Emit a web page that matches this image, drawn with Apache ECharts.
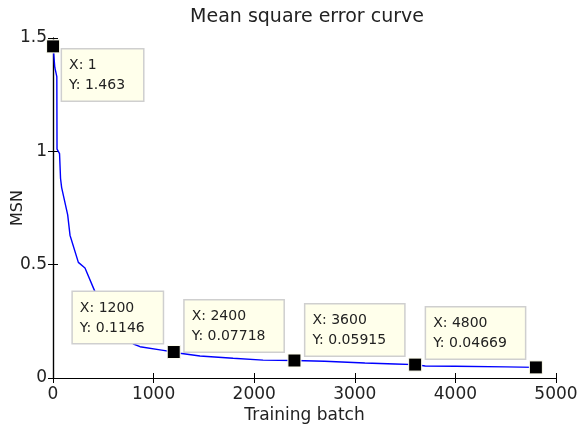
<!DOCTYPE html>
<html>
<head>
<meta charset="utf-8">
<script src="https://cdn.jsdelivr.net/npm/echarts@6/dist/echarts.min.js"></script>
<style>html,body{margin:0;padding:0;background:#fff;}#c{width:579px;height:430px;}</style>
</head>
<body>
<div id="c"></div>
<script>
// Curve samples
var curveX = [1, 18, 38, 40, 65, 75, 86, 146, 169, 252, 318, 418, 500, 600, 700, 800, 865, 1080, 1200, 1262, 1461, 1790, 2088, 2400, 2700, 3100, 3400, 3600, 3700, 4000, 4500, 4800];
var curveY = [1.463, 1.37, 1.33, 1.01, 0.99, 0.88, 0.84, 0.72, 0.63, 0.51, 0.485, 0.38, 0.30, 0.23, 0.18, 0.15, 0.138, 0.123, 0.1146, 0.109, 0.097, 0.087, 0.079, 0.07718, 0.074, 0.066, 0.062, 0.05915, 0.053, 0.052, 0.049, 0.04669];
// Data tips
var tipX = [1, 1200, 2400, 3600, 4800];
var tipY = [1.463, 0.1146, 0.07718, 0.05915, 0.04669];
// Axis ticks
var xTicks = [0, 1000, 2000, 3000, 4000, 5000];
var yTicks = [0, 0.5, 1, 1.5];

var FONT = 'DejaVu Sans';
var lineData = curveX.map(function (x, i) { return [x, curveY[i]]; });
var tipData = tipX.map(function (x, i) {
  var first = i === 0;
  return {
    value: [x, tipY[i]],
    label: first
      ? { position: [16, 10], align: 'left', verticalAlign: 'top' }
      : { position: [-4, -2], align: 'right', verticalAlign: 'bottom' }
  };
});

var axisCommon = {
  type: 'value',
  axisLine: { show: true, lineStyle: { color: '#000', width: 1.2 } },
  axisTick: { show: true, inside: true, length: 5, lineStyle: { color: '#000' } },
  splitLine: { show: false }
};
function plain(v) { return String(v); }

var chart = echarts.init(document.getElementById('c'), null, { renderer: 'canvas' });
chart.setOption({
  backgroundColor: '#fff',
  animation: false,
  title: {
    text: 'Mean square error curve',
    left: 302, textAlign: 'center', top: 3,
    textStyle: { fontFamily: FONT, fontSize: 19, fontWeight: 'normal', color: '#222' }
  },
  grid: { left: 53, right: 23, top: 38, bottom: 52, containLabel: false, outerBoundsMode: 'none' },
  xAxis: [
    Object.assign({}, axisCommon, {
      position: 'bottom', min: xTicks[0], max: xTicks[xTicks.length - 1], interval: 1000,
      name: 'Training batch', nameLocation: 'middle', nameGap: 29, nameMoveOverlap: false,
      nameTextStyle: { fontFamily: FONT, fontSize: 17, color: '#222' },
      axisLabel: { fontFamily: FONT, fontSize: 17, color: '#222', margin: 8, formatter: plain }
    }),
    Object.assign({}, axisCommon, {
      position: 'top', min: xTicks[0], max: xTicks[xTicks.length - 1], interval: 1000,
      axisLabel: { show: false }
    })
  ],
  yAxis: [
    Object.assign({}, axisCommon, {
      position: 'left', min: yTicks[0], max: yTicks[yTicks.length - 1], interval: 0.5,
      name: 'MSN', nameLocation: 'middle', nameGap: 27, nameMoveOverlap: false,
      nameTextStyle: { fontFamily: FONT, fontSize: 16, color: '#222' },
      axisLabel: { fontFamily: FONT, fontSize: 17, color: '#222', margin: 6, formatter: plain }
    }),
    Object.assign({}, axisCommon, {
      position: 'right', min: yTicks[0], max: yTicks[yTicks.length - 1], interval: 0.5,
      axisLabel: { show: false }
    })
  ],
  series: [
    {
      type: 'line', xAxisIndex: 0, yAxisIndex: 0,
      data: lineData, showSymbol: false, symbol: 'none',
      lineStyle: { color: '#0000ff', width: 1.4 }, z: 2
    },
    {
      type: 'scatter', xAxisIndex: 0, yAxisIndex: 0,
      data: tipData, symbol: 'rect', symbolSize: 13,
      itemStyle: { color: '#000', borderColor: '#fffff0', borderWidth: 1, opacity: 1 },
      z: 5,
      label: {
        show: true,
        formatter: function (p) { return '{t|X: ' + p.value[0] + '}\n{t|Y: ' + p.value[1] + '}'; },
        rich: { t: { fontFamily: FONT, fontSize: 14, color: '#222', lineHeight: 20, align: 'left' } },
        fontFamily: FONT, fontSize: 14, color: '#222', lineHeight: 20,
        backgroundColor: '#ffffeb', borderColor: '#cfcfcf', borderWidth: 1.5,
        padding: [6, 18, 5, 7]
      }
    }
  ]
});
</script>
</body>
</html>
